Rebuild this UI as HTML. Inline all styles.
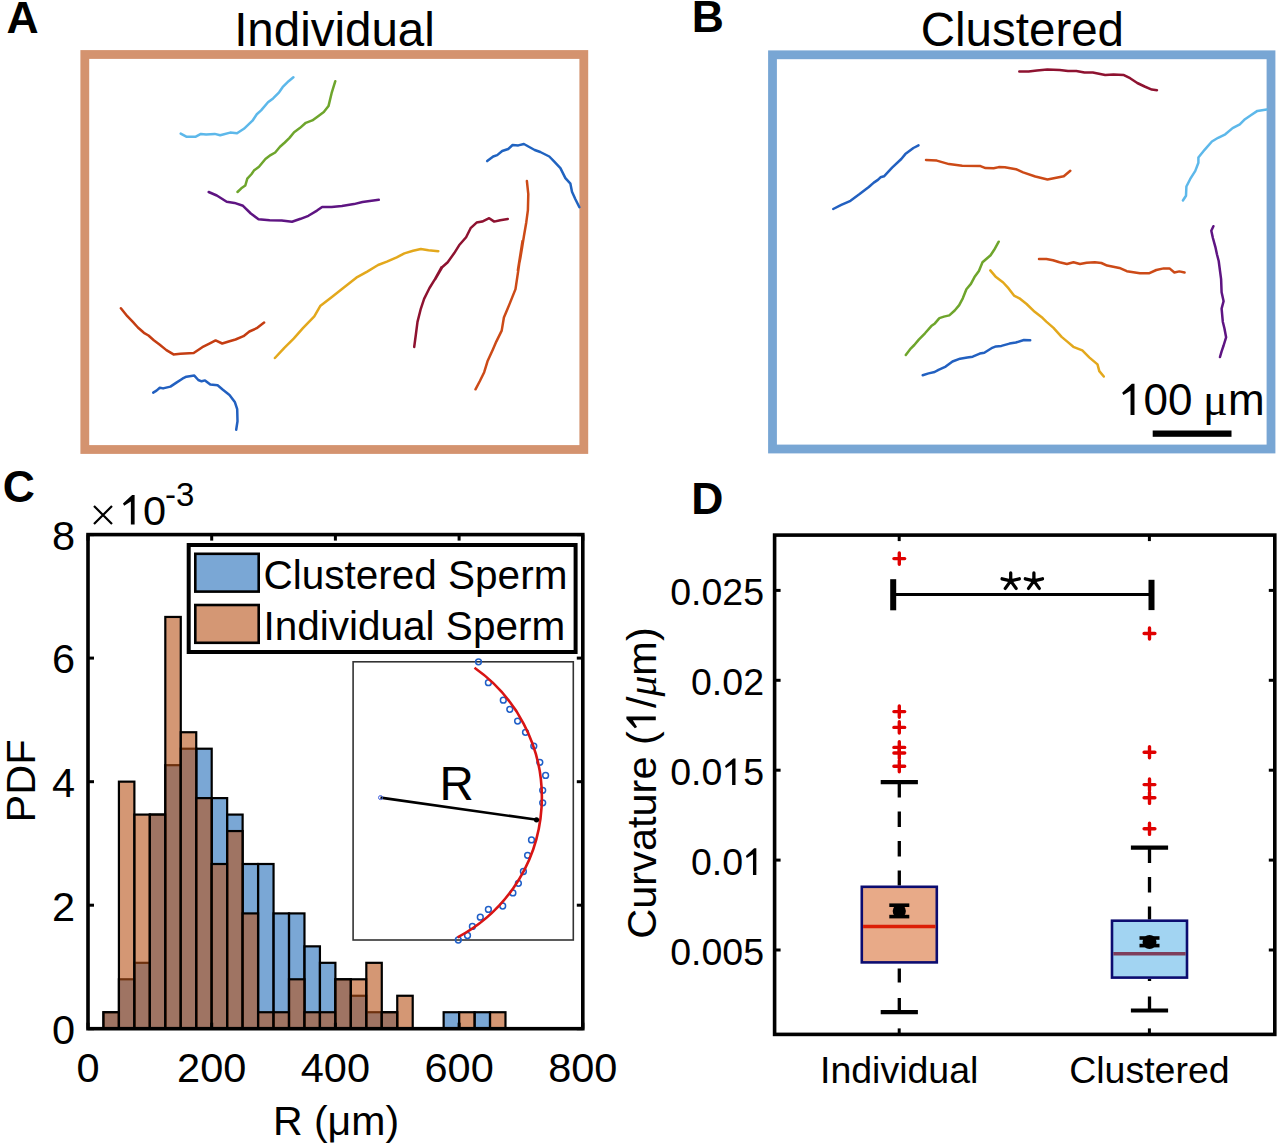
<!DOCTYPE html>
<html><head><meta charset="utf-8"><title>Figure</title>
<style>html,body{margin:0;padding:0;background:#fff;width:1280px;height:1148px;overflow:hidden} svg{display:block}</style>
</head><body>
<svg width="1280" height="1148" viewBox="0 0 1280 1148" font-family='"Liberation Sans", sans-serif'>
<rect x="0" y="0" width="1280" height="1148" fill="#ffffff"/>
<text x="6.5" y="32.8" font-size="44.5" font-weight="bold" fill="#000">A</text>
<text x="691.8" y="32.3" font-size="44.5" font-weight="bold" fill="#000">B</text>
<text x="2.8" y="501.8" font-size="44.5" font-weight="bold" fill="#000">C</text>
<text x="691.2" y="513.8" font-size="44.5" font-weight="bold" fill="#000">D</text>
<text x="334.5" y="46.4" font-size="47.5" text-anchor="middle" fill="#000">Individual</text>
<text x="1022.4" y="46" font-size="47.5" text-anchor="middle" fill="#000">Clustered</text>
<rect x="84.8" y="54.5" width="499" height="395" fill="none" stroke="#D4936F" stroke-width="8.8"/>
<rect x="772.5" y="54.8" width="498.5" height="394.2" fill="none" stroke="#78A6D4" stroke-width="8.8"/>
<path d="M180.7,133.6 L186.3,136.7 L195.8,136.7 L200.9,133.9 L206.1,134.6 L214.7,133.9 L220.2,135.3 L230.2,132.6 L237.0,133.3 L243.9,128.8 L252.5,120.7 L256.8,114.3 L261.1,110.4 L268.0,102.3 L273.1,98.4 L279.1,92.3 L282.6,87.2 L288.6,81.2 L293.4,77.2" fill="none" stroke="#5DB8EA" stroke-width="2.5" stroke-linejoin="round" stroke-linecap="round"/>
<path d="M237.5,192.0 L241.3,188.3 L245.3,185.5 L247.3,178.6 L251.6,174.0 L253.9,170.6 L259.0,166.8 L265.4,159.0 L270.6,155.1 L275.2,152.5 L280.0,146.8 L284.8,142.5 L289.5,137.9 L294.1,132.2 L299.8,128.1 L305.8,122.8 L312.3,120.4 L317.8,116.4 L323.8,112.1 L328.5,106.1 L331.6,93.2 L335.3,81.2" fill="none" stroke="#6EA52C" stroke-width="2.5" stroke-linejoin="round" stroke-linecap="round"/>
<path d="M208.7,192.0 L216.8,195.5 L226.7,201.8 L234.5,202.9 L243.0,205.8 L250.8,213.5 L258.5,219.2 L269.7,220.2 L281.7,220.4 L292.0,221.8 L300.6,218.8 L308.4,215.8 L317.0,210.6 L322.1,207.0 L331.6,207.0 L341.9,206.1 L353.9,204.1 L362.5,202.0 L378.8,199.8" fill="none" stroke="#5E1482" stroke-width="2.5" stroke-linejoin="round" stroke-linecap="round"/>
<path d="M487.2,161.1 L493.2,156.5 L497.2,155.1 L502.2,151.0 L508.2,149.0 L512.6,145.0 L518.3,145.4 L523.9,144.0 L529.3,147.0 L534.7,150.0 L540.3,152.0 L549.3,156.5 L554.3,161.7 L560.4,168.1 L565.4,178.1 L570.4,183.7 L572.0,191.7 L575.4,199.2 L579.4,207.2" fill="none" stroke="#2063C0" stroke-width="2.5" stroke-linejoin="round" stroke-linecap="round"/>
<path d="M507.8,219.0 L500.2,220.2 L494.2,221.6 L489.2,218.2 L482.2,221.6 L476.6,222.6 L470.6,228.2 L466.1,237.2 L459.1,245.3 L454.1,253.3 L447.7,262.3 L442.1,267.3 L435.1,279.3 L441.6,267.2 L435.0,279.2 L429.5,288.0 L424.1,298.9 L420.8,308.8 L417.5,321.9 L415.8,335.0 L414.2,347.0" fill="none" stroke="#8E1230" stroke-width="2.5" stroke-linejoin="round" stroke-linecap="round"/>
<path d="M526.9,181.1 L528.3,194.1 L527.9,210.2 L526.3,222.2 L523.9,236.2 L522.3,246.3 L520.3,258.3 L517.9,270.3 L522.5,240.9 L520.3,256.3 L518.1,271.6 L515.5,289.1 L509.4,304.4 L503.9,317.5 L501.7,330.6 L496.3,341.6 L493.0,349.2 L487.5,361.3 L484.2,372.2 L479.9,381.0 L475.5,389.3" fill="none" stroke="#CC4A17" stroke-width="2.5" stroke-linejoin="round" stroke-linecap="round"/>
<path d="M274.9,358.0 L284.1,348.1 L293.9,338.3 L302.7,328.4 L314.3,316.4 L320.2,306.1 L332.2,296.7 L344.2,287.3 L356.3,277.7 L367.2,271.6 L378.1,265.0 L386.9,261.7 L396.7,257.3 L404.4,253.4 L413.1,250.8 L420.8,249.0 L428.5,250.3 L438.3,251.2" fill="none" stroke="#E3A81C" stroke-width="2.5" stroke-linejoin="round" stroke-linecap="round"/>
<path d="M120.9,308.3 L127.3,316.2 L132.6,321.6 L137.9,327.5 L143.9,332.8 L148.5,335.5 L153.8,340.2 L159.8,344.8 L166.4,350.1 L173.5,354.4 L180.4,353.7 L193.7,353.0 L202.3,347.2 L208.9,343.9 L215.6,340.4 L222.2,343.5 L229.5,341.2 L235.5,339.5 L243.5,336.2 L249.4,331.5 L256.7,328.2 L264.1,322.6" fill="none" stroke="#C43D12" stroke-width="2.5" stroke-linejoin="round" stroke-linecap="round"/>
<path d="M153.2,392.6 L156.5,390.6 L159.8,387.7 L163.1,388.4 L170.4,386.6 L176.4,382.6 L182.4,378.7 L186.4,376.7 L194.3,375.6 L198.3,380.0 L201.6,381.3 L205.0,380.4 L210.3,384.6 L217.6,385.3 L222.9,389.7 L229.5,394.9 L234.8,401.9 L237.2,409.2 L237.5,421.2 L236.2,429.8" fill="none" stroke="#2260C0" stroke-width="2.5" stroke-linejoin="round" stroke-linecap="round"/>
<path d="M833.2,209.0 L841.3,204.9 L850.5,200.8 L859.6,194.1 L868.8,187.0 L873.8,182.6 L877.9,179.9 L880.5,177.3 L884.0,176.3 L892.1,167.7 L901.3,159.0 L905.3,154.1 L913.4,148.0 L918.5,145.4" fill="none" stroke="#2260C0" stroke-width="2.5" stroke-linejoin="round" stroke-linecap="round"/>
<path d="M926.0,160.0 L936.8,160.6 L949.0,164.1 L962.2,165.7 L980.5,166.1 L985.5,168.1 L993.7,168.3 L998.8,167.1 L1004.8,167.3 L1016.0,169.2 L1023.1,172.4 L1035.3,176.5 L1047.5,179.5 L1063.8,176.3 L1070.3,170.8" fill="none" stroke="#CC4A17" stroke-width="2.5" stroke-linejoin="round" stroke-linecap="round"/>
<path d="M1019.3,71.6 L1028.6,71.6 L1036.9,70.5 L1047.3,69.5 L1059.7,69.9 L1068.0,71.1 L1076.3,71.1 L1084.5,72.6 L1092.8,72.6 L1105.2,75.1 L1113.5,74.5 L1123.9,75.1 L1130.1,78.2 L1137.3,83.0 L1144.6,86.5 L1151.8,89.6 L1157.0,90.2" fill="none" stroke="#8E1230" stroke-width="2.5" stroke-linejoin="round" stroke-linecap="round"/>
<path d="M1182.9,200.5 L1186.0,195.8 L1186.4,186.5 L1190.1,179.2 L1195.3,170.9 L1198.4,162.7 L1198.4,157.5 L1204.6,149.8 L1211.9,141.5 L1218.1,137.8 L1225.3,134.3 L1232.6,128.1 L1239.8,124.4 L1245.0,119.2 L1251.2,115.0 L1257.4,110.9 L1266.7,109.5" fill="none" stroke="#5DB8EA" stroke-width="2.5" stroke-linejoin="round" stroke-linecap="round"/>
<path d="M905.8,354.9 L910.7,348.6 L914.3,345.0 L918.8,339.6 L925.0,333.3 L931.3,326.1 L934.9,323.4 L939.4,318.1 L943.9,316.6 L949.3,315.4 L954.7,310.5 L959.2,305.1 L962.8,298.3 L966.4,289.3 L970.9,283.9 L974.5,277.1 L978.9,271.0 L982.5,262.3 L990.6,255.2 L994.2,249.8 L998.7,241.7" fill="none" stroke="#6EA52C" stroke-width="2.5" stroke-linejoin="round" stroke-linecap="round"/>
<path d="M990.3,270.4 L996.0,277.1 L1003.2,282.5 L1008.6,288.4 L1014.0,295.6 L1019.4,298.3 L1026.6,304.0 L1034.7,311.8 L1042.7,318.1 L1046.3,321.6 L1053.5,327.9 L1061.6,336.9 L1067.0,341.4 L1073.3,346.8 L1082.3,350.4 L1089.5,357.6 L1097.5,364.4 L1099.3,371.1 L1103.8,376.5" fill="none" stroke="#E3A81C" stroke-width="2.5" stroke-linejoin="round" stroke-linecap="round"/>
<path d="M922.7,375.2 L928.6,373.4 L934.6,372.0 L938.5,369.8 L945.7,366.6 L952.5,361.5 L960.1,358.7 L967.3,357.6 L972.7,356.7 L979.8,353.6 L984.3,352.7 L991.5,348.2 L996.0,346.4 L1001.4,345.9 L1009.5,343.6 L1015.8,342.5 L1023.9,340.0 L1030.2,340.2" fill="none" stroke="#2260C0" stroke-width="2.5" stroke-linejoin="round" stroke-linecap="round"/>
<path d="M1039.0,258.9 L1046.4,258.9 L1053.0,260.2 L1059.5,262.3 L1066.9,264.0 L1073.5,262.3 L1080.0,264.0 L1086.6,262.7 L1094.8,262.2 L1101.4,263.0 L1107.1,265.6 L1119.4,267.9 L1126.8,271.2 L1139.9,273.3 L1148.9,273.3 L1156.3,270.0 L1163.7,268.4 L1169.5,268.4 L1174.4,272.5 L1179.3,271.4 L1184.6,272.5" fill="none" stroke="#CC4A17" stroke-width="2.5" stroke-linejoin="round" stroke-linecap="round"/>
<path d="M1213.4,226.2 L1211.3,230.7 L1212.9,238.0 L1215.4,247.1 L1217.0,254.5 L1218.7,261.0 L1220.0,270.9 L1221.1,279.1 L1221.6,292.2 L1223.6,301.2 L1221.6,308.6 L1222.8,321.7 L1224.4,328.3 L1226.1,337.3 L1223.6,345.5 L1221.6,351.3 L1220.0,357.0" fill="none" stroke="#5E1482" stroke-width="2.5" stroke-linejoin="round" stroke-linecap="round"/>
<rect x="1152.7" y="430.5" width="78.8" height="6.3" fill="#000"/>
<polygon points="1134.49,415.00 1130.53,415.00 1130.53,390.71 1123.40,395.11 1122.17,392.78 1131.85,383.80 1134.49,383.80" fill="#000"/>
<text x="1143.47" y="415.00" font-size="44">00</text>
<text x="1203" y="415" font-size="46" font-family="Liberation Serif" fill="#000">μ</text>
<text x="1228" y="415" font-size="44" fill="#000">m</text>
<g font-size="41.5" fill="#000">
<rect x="103.46" y="1012.23" width="15.46" height="16.47" fill="rgb(33, 108, 185)" fill-opacity="0.6" stroke="#000" stroke-width="2.2"/>
<rect x="118.92" y="979.29" width="15.46" height="49.41" fill="rgb(33, 108, 185)" fill-opacity="0.6" stroke="#000" stroke-width="2.2"/>
<rect x="134.39" y="962.82" width="15.46" height="65.88" fill="rgb(33, 108, 185)" fill-opacity="0.6" stroke="#000" stroke-width="2.2"/>
<rect x="149.85" y="814.59" width="15.46" height="214.11" fill="rgb(33, 108, 185)" fill-opacity="0.6" stroke="#000" stroke-width="2.2"/>
<rect x="165.31" y="765.18" width="15.46" height="263.52" fill="rgb(33, 108, 185)" fill-opacity="0.6" stroke="#000" stroke-width="2.2"/>
<rect x="180.78" y="748.71" width="15.46" height="279.99" fill="rgb(33, 108, 185)" fill-opacity="0.6" stroke="#000" stroke-width="2.2"/>
<rect x="196.24" y="748.71" width="15.46" height="279.99" fill="rgb(33, 108, 185)" fill-opacity="0.6" stroke="#000" stroke-width="2.2"/>
<rect x="211.70" y="798.12" width="15.46" height="230.58" fill="rgb(33, 108, 185)" fill-opacity="0.6" stroke="#000" stroke-width="2.2"/>
<rect x="227.16" y="814.59" width="15.46" height="214.11" fill="rgb(33, 108, 185)" fill-opacity="0.6" stroke="#000" stroke-width="2.2"/>
<rect x="242.62" y="864.00" width="15.46" height="164.70" fill="rgb(33, 108, 185)" fill-opacity="0.6" stroke="#000" stroke-width="2.2"/>
<rect x="258.09" y="864.00" width="15.46" height="164.70" fill="rgb(33, 108, 185)" fill-opacity="0.6" stroke="#000" stroke-width="2.2"/>
<rect x="273.55" y="913.41" width="15.46" height="115.29" fill="rgb(33, 108, 185)" fill-opacity="0.6" stroke="#000" stroke-width="2.2"/>
<rect x="289.01" y="913.41" width="15.46" height="115.29" fill="rgb(33, 108, 185)" fill-opacity="0.6" stroke="#000" stroke-width="2.2"/>
<rect x="304.47" y="946.35" width="15.46" height="82.35" fill="rgb(33, 108, 185)" fill-opacity="0.6" stroke="#000" stroke-width="2.2"/>
<rect x="319.94" y="962.82" width="15.46" height="65.88" fill="rgb(33, 108, 185)" fill-opacity="0.6" stroke="#000" stroke-width="2.2"/>
<rect x="335.40" y="979.29" width="15.46" height="49.41" fill="rgb(33, 108, 185)" fill-opacity="0.6" stroke="#000" stroke-width="2.2"/>
<rect x="350.86" y="995.76" width="15.46" height="32.94" fill="rgb(33, 108, 185)" fill-opacity="0.6" stroke="#000" stroke-width="2.2"/>
<rect x="366.32" y="1012.23" width="15.46" height="16.47" fill="rgb(33, 108, 185)" fill-opacity="0.6" stroke="#000" stroke-width="2.2"/>
<rect x="381.79" y="1012.23" width="15.46" height="16.47" fill="rgb(33, 108, 185)" fill-opacity="0.6" stroke="#000" stroke-width="2.2"/>
<rect x="443.64" y="1012.23" width="15.46" height="16.47" fill="rgb(33, 108, 185)" fill-opacity="0.6" stroke="#000" stroke-width="2.2"/>
<rect x="474.56" y="1012.23" width="15.46" height="16.47" fill="rgb(33, 108, 185)" fill-opacity="0.6" stroke="#000" stroke-width="2.2"/>
<rect x="103.46" y="1012.23" width="15.46" height="16.47" fill="rgb(183, 82, 23)" fill-opacity="0.6" stroke="#000" stroke-width="2.2"/>
<rect x="118.92" y="781.65" width="15.46" height="247.05" fill="rgb(183, 82, 23)" fill-opacity="0.6" stroke="#000" stroke-width="2.2"/>
<rect x="134.39" y="814.59" width="15.46" height="214.11" fill="rgb(183, 82, 23)" fill-opacity="0.6" stroke="#000" stroke-width="2.2"/>
<rect x="149.85" y="814.59" width="15.46" height="214.11" fill="rgb(183, 82, 23)" fill-opacity="0.6" stroke="#000" stroke-width="2.2"/>
<rect x="165.31" y="616.95" width="15.46" height="411.75" fill="rgb(183, 82, 23)" fill-opacity="0.6" stroke="#000" stroke-width="2.2"/>
<rect x="180.78" y="732.24" width="15.46" height="296.46" fill="rgb(183, 82, 23)" fill-opacity="0.6" stroke="#000" stroke-width="2.2"/>
<rect x="196.24" y="798.12" width="15.46" height="230.58" fill="rgb(183, 82, 23)" fill-opacity="0.6" stroke="#000" stroke-width="2.2"/>
<rect x="211.70" y="864.00" width="15.46" height="164.70" fill="rgb(183, 82, 23)" fill-opacity="0.6" stroke="#000" stroke-width="2.2"/>
<rect x="227.16" y="831.06" width="15.46" height="197.64" fill="rgb(183, 82, 23)" fill-opacity="0.6" stroke="#000" stroke-width="2.2"/>
<rect x="242.62" y="913.41" width="15.46" height="115.29" fill="rgb(183, 82, 23)" fill-opacity="0.6" stroke="#000" stroke-width="2.2"/>
<rect x="258.09" y="1012.23" width="15.46" height="16.47" fill="rgb(183, 82, 23)" fill-opacity="0.6" stroke="#000" stroke-width="2.2"/>
<rect x="273.55" y="1012.23" width="15.46" height="16.47" fill="rgb(183, 82, 23)" fill-opacity="0.6" stroke="#000" stroke-width="2.2"/>
<rect x="289.01" y="979.29" width="15.46" height="49.41" fill="rgb(183, 82, 23)" fill-opacity="0.6" stroke="#000" stroke-width="2.2"/>
<rect x="304.47" y="1012.23" width="15.46" height="16.47" fill="rgb(183, 82, 23)" fill-opacity="0.6" stroke="#000" stroke-width="2.2"/>
<rect x="319.94" y="1012.23" width="15.46" height="16.47" fill="rgb(183, 82, 23)" fill-opacity="0.6" stroke="#000" stroke-width="2.2"/>
<rect x="335.40" y="979.29" width="15.46" height="49.41" fill="rgb(183, 82, 23)" fill-opacity="0.6" stroke="#000" stroke-width="2.2"/>
<rect x="350.86" y="979.29" width="15.46" height="49.41" fill="rgb(183, 82, 23)" fill-opacity="0.6" stroke="#000" stroke-width="2.2"/>
<rect x="366.32" y="962.82" width="15.46" height="65.88" fill="rgb(183, 82, 23)" fill-opacity="0.6" stroke="#000" stroke-width="2.2"/>
<rect x="381.79" y="1012.23" width="15.46" height="16.47" fill="rgb(183, 82, 23)" fill-opacity="0.6" stroke="#000" stroke-width="2.2"/>
<rect x="397.25" y="995.76" width="15.46" height="32.94" fill="rgb(183, 82, 23)" fill-opacity="0.6" stroke="#000" stroke-width="2.2"/>
<rect x="459.10" y="1012.23" width="15.46" height="16.47" fill="rgb(183, 82, 23)" fill-opacity="0.6" stroke="#000" stroke-width="2.2"/>
<rect x="490.02" y="1012.23" width="15.46" height="16.47" fill="rgb(183, 82, 23)" fill-opacity="0.6" stroke="#000" stroke-width="2.2"/>
<rect x="88.0" y="534.6" width="494.79999999999995" height="494.1" fill="none" stroke="#000" stroke-width="3.6"/>
<line x1="88.0" y1="1028.7" x2="88.0" y2="1022.7" stroke="#000" stroke-width="3"/>
<line x1="88.0" y1="534.6" x2="88.0" y2="540.6" stroke="#000" stroke-width="3"/>
<text x="88.0" y="1082" font-size="41.5" text-anchor="middle">0</text>
<line x1="211.7" y1="1028.7" x2="211.7" y2="1022.7" stroke="#000" stroke-width="3"/>
<line x1="211.7" y1="534.6" x2="211.7" y2="540.6" stroke="#000" stroke-width="3"/>
<text x="211.7" y="1082" font-size="41.5" text-anchor="middle">200</text>
<line x1="335.4" y1="1028.7" x2="335.4" y2="1022.7" stroke="#000" stroke-width="3"/>
<line x1="335.4" y1="534.6" x2="335.4" y2="540.6" stroke="#000" stroke-width="3"/>
<text x="335.4" y="1082" font-size="41.5" text-anchor="middle">400</text>
<line x1="459.1" y1="1028.7" x2="459.1" y2="1022.7" stroke="#000" stroke-width="3"/>
<line x1="459.1" y1="534.6" x2="459.1" y2="540.6" stroke="#000" stroke-width="3"/>
<text x="459.1" y="1082" font-size="41.5" text-anchor="middle">600</text>
<line x1="582.8" y1="1028.7" x2="582.8" y2="1022.7" stroke="#000" stroke-width="3"/>
<line x1="582.8" y1="534.6" x2="582.8" y2="540.6" stroke="#000" stroke-width="3"/>
<text x="582.8" y="1082" font-size="41.5" text-anchor="middle">800</text>
<line x1="88.0" y1="1028.7" x2="94.0" y2="1028.7" stroke="#000" stroke-width="3"/>
<line x1="582.8" y1="1028.7" x2="576.8" y2="1028.7" stroke="#000" stroke-width="3"/>
<text x="75" y="1044.0" font-size="41.5" text-anchor="end">0</text>
<line x1="88.0" y1="905.2" x2="94.0" y2="905.2" stroke="#000" stroke-width="3"/>
<line x1="582.8" y1="905.2" x2="576.8" y2="905.2" stroke="#000" stroke-width="3"/>
<text x="75" y="920.5" font-size="41.5" text-anchor="end">2</text>
<line x1="88.0" y1="781.7" x2="94.0" y2="781.7" stroke="#000" stroke-width="3"/>
<line x1="582.8" y1="781.7" x2="576.8" y2="781.7" stroke="#000" stroke-width="3"/>
<text x="75" y="797.0" font-size="41.5" text-anchor="end">4</text>
<line x1="88.0" y1="658.1" x2="94.0" y2="658.1" stroke="#000" stroke-width="3"/>
<line x1="582.8" y1="658.1" x2="576.8" y2="658.1" stroke="#000" stroke-width="3"/>
<text x="75" y="673.4" font-size="41.5" text-anchor="end">6</text>
<line x1="88.0" y1="534.6" x2="94.0" y2="534.6" stroke="#000" stroke-width="3"/>
<line x1="582.8" y1="534.6" x2="576.8" y2="534.6" stroke="#000" stroke-width="3"/>
<text x="75" y="549.9" font-size="41.5" text-anchor="end">8</text>
<path d="M94,506 L112,524 M112,506 L94,524" stroke="#000" stroke-width="2.2"/>
<polygon points="134.61,524.50 130.87,524.50 130.87,501.59 124.15,505.74 122.99,503.54 132.12,495.08 134.61,495.08" fill="#000"/>
<text x="143.08" y="524.50" font-size="41.5">0</text>
<text x="165" y="505.6" font-size="33">-3</text>
<text x="336" y="1135" font-size="41" text-anchor="middle">R (μm)</text>
<text transform="translate(35.3,780.9) rotate(-90)" font-size="41.5" text-anchor="middle">PDF</text>
<rect x="188.7" y="545" width="386.9" height="107" fill="#fff" stroke="#000" stroke-width="4"/>
<rect x="195.3" y="553.8" width="63.4" height="37.8" fill="rgb(33, 108, 185)" fill-opacity="0.6" stroke="#000" stroke-width="2.6"/>
<rect x="195.3" y="605" width="63.4" height="37.8" fill="rgb(183, 82, 23)" fill-opacity="0.6" stroke="#000" stroke-width="2.6"/>
<text x="263.5" y="589" font-size="40.5">Clustered Sperm</text>
<text x="263.5" y="640" font-size="40.5">Individual Sperm</text>
<rect x="353.1" y="661.8" width="220.2" height="278.2" fill="#fff" stroke="#333" stroke-width="1.6"/>
<circle cx="478.5" cy="661.8" r="2.9" fill="none" stroke="#1F5FC8" stroke-width="1.5"/>
<circle cx="488.4" cy="682.7" r="2.9" fill="none" stroke="#1F5FC8" stroke-width="1.5"/>
<circle cx="503.3" cy="700.2" r="2.9" fill="none" stroke="#1F5FC8" stroke-width="1.5"/>
<circle cx="509.8" cy="709.3" r="2.9" fill="none" stroke="#1F5FC8" stroke-width="1.5"/>
<circle cx="517.6" cy="721.1" r="2.9" fill="none" stroke="#1F5FC8" stroke-width="1.5"/>
<circle cx="525.5" cy="732.3" r="2.9" fill="none" stroke="#1F5FC8" stroke-width="1.5"/>
<circle cx="533.8" cy="746.1" r="2.9" fill="none" stroke="#1F5FC8" stroke-width="1.5"/>
<circle cx="539.8" cy="762.3" r="2.9" fill="none" stroke="#1F5FC8" stroke-width="1.5"/>
<circle cx="545.6" cy="775.4" r="2.9" fill="none" stroke="#1F5FC8" stroke-width="1.5"/>
<circle cx="542.7" cy="790.3" r="2.9" fill="none" stroke="#1F5FC8" stroke-width="1.5"/>
<circle cx="542.7" cy="802.8" r="2.9" fill="none" stroke="#1F5FC8" stroke-width="1.5"/>
<circle cx="531.5" cy="839.9" r="2.9" fill="none" stroke="#1F5FC8" stroke-width="1.5"/>
<circle cx="527.6" cy="855.3" r="2.9" fill="none" stroke="#1F5FC8" stroke-width="1.5"/>
<circle cx="523.4" cy="871.5" r="2.9" fill="none" stroke="#1F5FC8" stroke-width="1.5"/>
<circle cx="518.4" cy="883.3" r="2.9" fill="none" stroke="#1F5FC8" stroke-width="1.5"/>
<circle cx="512.9" cy="892.9" r="2.9" fill="none" stroke="#1F5FC8" stroke-width="1.5"/>
<circle cx="502.7" cy="906.0" r="2.9" fill="none" stroke="#1F5FC8" stroke-width="1.5"/>
<circle cx="488.4" cy="909.4" r="2.9" fill="none" stroke="#1F5FC8" stroke-width="1.5"/>
<circle cx="480.3" cy="917.2" r="2.9" fill="none" stroke="#1F5FC8" stroke-width="1.5"/>
<circle cx="472.4" cy="926.4" r="2.9" fill="none" stroke="#1F5FC8" stroke-width="1.5"/>
<circle cx="467.5" cy="935.5" r="2.9" fill="none" stroke="#1F5FC8" stroke-width="1.5"/>
<circle cx="458.3" cy="940.0" r="2.9" fill="none" stroke="#1F5FC8" stroke-width="1.5"/>
<path d="M474.5,667.8 A158.4,158.4 0 0 1 457.6,937.4" fill="none" stroke="#D81414" stroke-width="2.6"/>
<line x1="380.5" y1="797.6" x2="537.2" y2="819.8" stroke="#000" stroke-width="2.6"/>
<circle cx="380.5" cy="797.6" r="2" fill="none" stroke="#4060E0" stroke-width="1"/>
<circle cx="536.5" cy="819.8" r="2.6" fill="#000"/>
<text x="439.5" y="800.2" font-size="47.5">R</text>
</g>
<g fill="#000">
<rect x="774.6" y="535.1" width="500.2" height="499.3" fill="none" stroke="#000" stroke-width="3.6"/>
<line x1="774.6" y1="950.0" x2="780.6" y2="950.0" stroke="#000" stroke-width="3"/>
<line x1="1274.8" y1="950.0" x2="1268.8" y2="950.0" stroke="#000" stroke-width="3"/>
<text x="670.16" y="964.80" font-size="37.5">0.005</text>
<line x1="774.6" y1="860.1" x2="780.6" y2="860.1" stroke="#000" stroke-width="3"/>
<line x1="1274.8" y1="860.1" x2="1268.8" y2="860.1" stroke="#000" stroke-width="3"/>
<text x="691.01" y="874.90" font-size="37.5">0.0</text>
<polygon points="756.34,874.90 752.97,874.90 752.97,854.20 746.89,857.95 745.84,855.96 754.09,848.31 756.34,848.31" fill="#000"/>
<line x1="774.6" y1="770.2" x2="780.6" y2="770.2" stroke="#000" stroke-width="3"/>
<line x1="1274.8" y1="770.2" x2="1268.8" y2="770.2" stroke="#000" stroke-width="3"/>
<text x="670.16" y="785.00" font-size="37.5">0.0</text>
<polygon points="735.49,785.00 732.11,785.00 732.11,764.30 726.04,768.05 724.99,766.06 733.24,758.41 735.49,758.41" fill="#000"/>
<text x="743.14" y="785.00" font-size="37.5">5</text>
<line x1="774.6" y1="680.3" x2="780.6" y2="680.3" stroke="#000" stroke-width="3"/>
<line x1="1274.8" y1="680.3" x2="1268.8" y2="680.3" stroke="#000" stroke-width="3"/>
<text x="691.01" y="695.10" font-size="37.5">0.02</text>
<line x1="774.6" y1="590.4" x2="780.6" y2="590.4" stroke="#000" stroke-width="3"/>
<line x1="1274.8" y1="590.4" x2="1268.8" y2="590.4" stroke="#000" stroke-width="3"/>
<text x="670.16" y="605.20" font-size="37.5">0.025</text>
<line x1="899.2" y1="1034.4" x2="899.2" y2="1028.4" stroke="#000" stroke-width="3"/>
<line x1="899.2" y1="535.1" x2="899.2" y2="541.1" stroke="#000" stroke-width="3"/>
<text x="899.2" y="1083" font-size="37.5" text-anchor="middle">Individual</text>
<line x1="1149.4" y1="1034.4" x2="1149.4" y2="1028.4" stroke="#000" stroke-width="3"/>
<line x1="1149.4" y1="535.1" x2="1149.4" y2="541.1" stroke="#000" stroke-width="3"/>
<text x="1149.4" y="1083" font-size="37.5" text-anchor="middle">Clustered</text>
<g transform="translate(655.8,783) rotate(-90)">
<text x="-155.70" y="0" font-size="41.5">Curvature (</text>
<polygon points="66.47,0.00 62.74,0.00 62.74,-22.91 56.02,-18.76 54.85,-20.96 63.98,-29.42 66.47,-29.42" fill="#000"/>
<text x="74.95" y="0" font-size="41.5">/<tspan font-family="Liberation Serif" font-style="italic">μ</tspan>m)</text>
</g>
<line x1="899.3" y1="782.1" x2="899.3" y2="885.5" stroke="#000" stroke-width="3.3" stroke-dasharray="15.5,14"/>
<line x1="899.3" y1="1012.1" x2="899.3" y2="963.7" stroke="#000" stroke-width="3.3" stroke-dasharray="14,15.5"/>
<line x1="880.6999999999999" y1="782.1" x2="917.9" y2="782.1" stroke="#000" stroke-width="4.2"/>
<line x1="880.6999999999999" y1="1012.1" x2="917.9" y2="1012.1" stroke="#000" stroke-width="4.2"/>
<rect x="861.8" y="886.8" width="75.0" height="75.60000000000005" fill="#E8AA88" stroke="#0C0C70" stroke-width="2.6"/>
<line x1="863.1" y1="926.5" x2="935.4999999999999" y2="926.5" stroke="#DC1E05" stroke-width="3.6"/>
<line x1="889.3" y1="905.2" x2="909.3" y2="905.2" stroke="#000" stroke-width="3.6"/>
<line x1="889.3" y1="916.6" x2="909.3" y2="916.6" stroke="#000" stroke-width="3.6"/>
<line x1="899.3" y1="905.2" x2="899.3" y2="916.6" stroke="#000" stroke-width="3"/>
<circle cx="899.3" cy="911" r="6.6" fill="#000"/>
<path d="M893.9,558.6 H904.6999999999999 M899.3,553.0 V564.2" stroke="#E00000" stroke-width="3.4" stroke-linecap="round"/>
<path d="M893.9,711.6 H904.6999999999999 M899.3,706.0 V717.2" stroke="#E00000" stroke-width="3.4" stroke-linecap="round"/>
<path d="M893.9,727.4 H904.6999999999999 M899.3,721.8 V733.0" stroke="#E00000" stroke-width="3.4" stroke-linecap="round"/>
<path d="M893.9,747.4 H904.6999999999999 M899.3,741.8 V753.0" stroke="#E00000" stroke-width="3.4" stroke-linecap="round"/>
<path d="M893.9,753 H904.6999999999999 M899.3,747.4 V758.6" stroke="#E00000" stroke-width="3.4" stroke-linecap="round"/>
<path d="M893.9,766.2 H904.6999999999999 M899.3,760.6 V771.8000000000001" stroke="#E00000" stroke-width="3.4" stroke-linecap="round"/>
<line x1="1149.5" y1="847.6" x2="1149.5" y2="919.4" stroke="#000" stroke-width="3.3" stroke-dasharray="15.5,14"/>
<line x1="1149.5" y1="1010.5" x2="1149.5" y2="978.9" stroke="#000" stroke-width="3.3" stroke-dasharray="14,15.5"/>
<line x1="1130.9" y1="847.6" x2="1168.1" y2="847.6" stroke="#000" stroke-width="4.2"/>
<line x1="1130.9" y1="1010.5" x2="1168.1" y2="1010.5" stroke="#000" stroke-width="4.2"/>
<rect x="1112.0" y="920.6999999999999" width="75.0" height="56.9" fill="#A2D4F2" stroke="#0C0C70" stroke-width="2.6"/>
<line x1="1113.3" y1="953.7" x2="1185.7" y2="953.7" stroke="#7E3E5C" stroke-width="3.6"/>
<line x1="1139.5" y1="938.0" x2="1159.5" y2="938.0" stroke="#000" stroke-width="3.6"/>
<line x1="1139.5" y1="945.6" x2="1159.5" y2="945.6" stroke="#000" stroke-width="3.6"/>
<line x1="1149.5" y1="938.0" x2="1149.5" y2="945.6" stroke="#000" stroke-width="3"/>
<circle cx="1149.5" cy="942" r="7.0" fill="#000"/>
<path d="M1144.1,633.5 H1154.9 M1149.5,627.9 V639.1" stroke="#E00000" stroke-width="3.4" stroke-linecap="round"/>
<path d="M1144.1,752.2 H1154.9 M1149.5,746.6 V757.8000000000001" stroke="#E00000" stroke-width="3.4" stroke-linecap="round"/>
<path d="M1144.1,784.6 H1154.9 M1149.5,779.0 V790.2" stroke="#E00000" stroke-width="3.4" stroke-linecap="round"/>
<path d="M1144.1,797.8 H1154.9 M1149.5,792.1999999999999 V803.4" stroke="#E00000" stroke-width="3.4" stroke-linecap="round"/>
<path d="M1144.1,828.8 H1154.9 M1149.5,823.1999999999999 V834.4" stroke="#E00000" stroke-width="3.4" stroke-linecap="round"/>
<line x1="893.2" y1="594.4" x2="1151.5" y2="594.4" stroke="#000" stroke-width="3"/>
<rect x="890.2" y="579.2" width="6" height="31.1" fill="#000"/>
<rect x="1148.5" y="579.8" width="6" height="30.3" fill="#000"/>
<path d="M1010.7,580.9 L1010.7,572.9 M1010.7,580.9 L1002.1,578.8 M1010.7,580.9 L1019.3,578.8 M1010.7,580.9 L1005.3,588.4 M1010.7,580.9 L1016.1,588.4" stroke="#000" stroke-width="3.3" stroke-linecap="round" fill="none"/>
<path d="M1033.9,580.9 L1033.9,572.9 M1033.9,580.9 L1025.3,578.8 M1033.9,580.9 L1042.5,578.8 M1033.9,580.9 L1028.5,588.4 M1033.9,580.9 L1039.3,588.4" stroke="#000" stroke-width="3.3" stroke-linecap="round" fill="none"/>
</g>
</svg>
</body></html>
